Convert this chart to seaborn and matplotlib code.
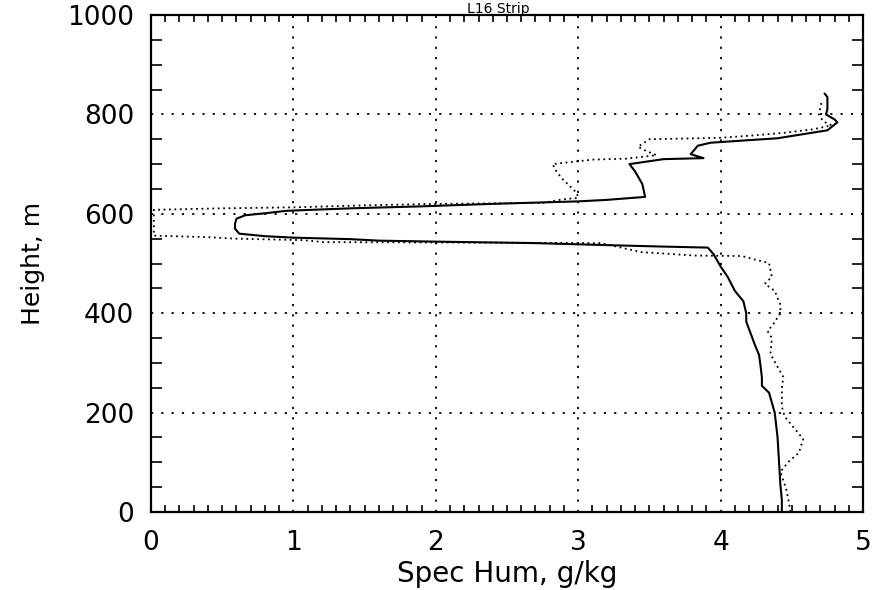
import matplotlib
matplotlib.use("Agg")
import matplotlib.pyplot as plt
from matplotlib.ticker import MultipleLocator
import seaborn as sns
import pandas as pd

# Specific humidity profiles (g/kg) against height (m)
solid_q = [4.43, 4.43, 4.42, 4.41, 4.40, 4.39, 4.38, 4.34, 4.29, 4.29, 4.28, 4.27,
           4.24, 4.21, 4.18, 4.18, 4.16, 4.10, 4.05, 4.00, 3.95, 3.91, 3.60, 3.20,
           2.70, 2.00, 1.60, 1.40, 1.00, 0.80, 0.62, 0.59, 0.59, 0.60, 0.66, 0.80,
           0.95, 1.40, 1.90, 2.40, 3.00, 3.20, 3.47, 3.45, 3.40, 3.36, 3.60, 3.88,
           3.79, 3.84, 3.93, 4.19, 4.40, 4.75, 4.82, 4.80, 4.74, 4.75, 4.75, 4.73]
solid_h = [0, 25, 54, 102, 150, 175, 200, 240, 254, 271, 295, 316,
           337, 360, 383, 400, 424, 445, 473, 494, 519, 532, 534, 537,
           541, 544, 546, 549, 552, 555, 560, 570, 580, 590, 597, 601,
           606, 611, 615, 620, 625, 628, 634, 660, 685, 700, 710, 712,
           720, 737, 743, 748, 752, 768, 784, 790, 800, 810, 835, 842]

dotted_q = [4.49, 4.48, 4.46, 4.42, 4.48, 4.55, 4.58, 4.51, 4.45, 4.43, 4.43, 4.44,
            4.40, 4.35, 4.36, 4.33, 4.37, 4.42, 4.42, 4.38, 4.31, 4.36, 4.34, 4.24,
            4.15, 3.82, 3.44, 3.16, 2.40, 1.21, 1.07, 0.59, 0.40, 0.02, 0.02, 0.50,
            1.00, 1.50, 2.00, 2.40, 2.75, 2.89, 3.00, 2.99, 2.94, 2.89, 2.85, 2.82,
            3.10, 3.34, 3.55, 3.48, 3.42, 3.50, 3.84, 4.00, 4.20, 4.45, 4.65, 4.78,
            4.72, 4.69, 4.71]
dotted_h = [0, 19, 47, 81, 102, 119, 147, 171, 192, 212, 247, 272,
            292, 318, 350, 364, 378, 400, 417, 445, 459, 473, 501, 508,
            515, 516, 523, 541, 542, 543, 547, 550, 553, 556, 608, 611,
            613, 617, 620, 621, 622, 629, 632, 642, 656, 670, 684, 700,
            709, 711, 718, 726, 735, 750, 752, 753, 757, 763, 770, 778,
            786, 800, 826]

x_ticks = [0, 1, 2, 3, 4, 5]
y_ticks = [0, 200, 400, 600, 800, 1000]
title = "L16 Strip"
x_title = "Spec Hum, g/kg"
y_title = "Height, m"

solid = pd.DataFrame({"q": solid_q, "h": solid_h})
dotted = pd.DataFrame({"q": dotted_q, "h": dotted_h})

sns.set_style("white")
plt.rcParams["font.family"] = ["DejaVu Sans"]

fig = plt.figure(figsize=(8.82, 5.90), dpi=100)
ax = fig.add_axes([151 / 882, 1 - 512 / 590, 712 / 882, 497 / 590])

sns.lineplot(data=dotted, x="q", y="h", sort=False, estimator=None, ax=ax,
             color="black", linewidth=1.3, linestyle=(0, (1, 2.0)))
sns.lineplot(data=solid, x="q", y="h", sort=False, estimator=None, ax=ax,
             color="black", linewidth=1.5)

ax.set_xlim(0, 5)
ax.set_ylim(0, 1000)
ax.set_xticks(x_ticks)
ax.set_yticks(y_ticks)
ax.set_xticklabels([str(v) for v in x_ticks])
ax.set_yticklabels([str(v) for v in y_ticks])
ax.xaxis.set_minor_locator(MultipleLocator(0.1))
ax.yaxis.set_minor_locator(MultipleLocator(50))

ax.grid(True, which="major", color="black", linestyle=(0, (1.2, 4.5)), linewidth=1.3)
ax.tick_params(which="major", length=0, labelsize=19, colors="black")
ax.tick_params(axis="x", which="major", pad=13)
ax.tick_params(axis="y", which="major", pad=12)
ax.tick_params(axis="x", which="minor", direction="in", length=5, width=1.2,
               top=True, bottom=True, colors="black")
ax.tick_params(axis="y", which="minor", direction="in", length=8, width=1.2,
               left=True, right=True, colors="black")

for s in ax.spines.values():
    s.set_visible(True)
    s.set_color("black")
    s.set_linewidth(1.6)

ax.set_xlabel(x_title, fontsize=20, labelpad=3, color="black")
ax.set_ylabel(y_title, fontsize=18, labelpad=16, color="black")
fig.text(0.565, 1 - 13 / 590, title, ha="center", va="baseline", fontsize=10,
         color="black")

fig.savefig("out.png", dpi=100, facecolor="white")
